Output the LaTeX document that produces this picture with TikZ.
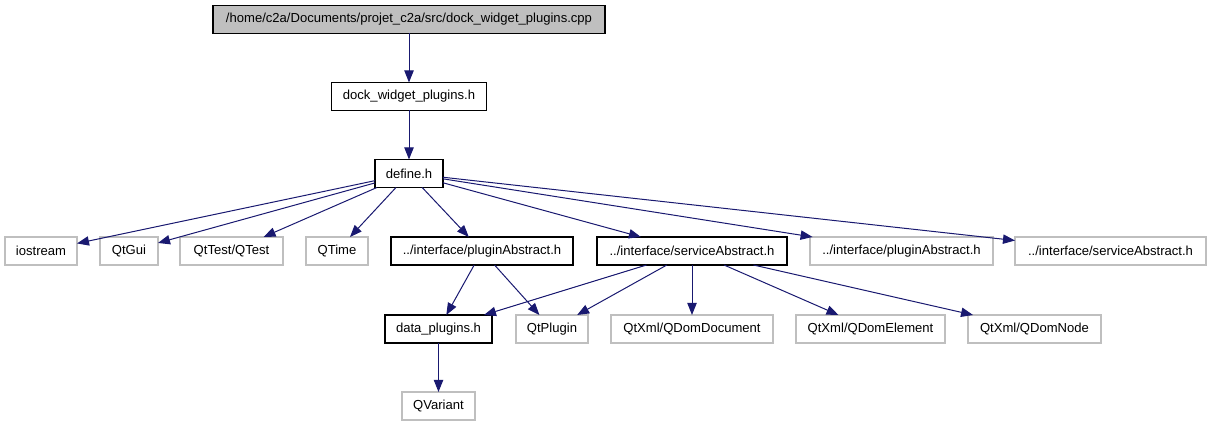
\documentclass[tikz,border=0pt]{standalone}
\usepackage{fontspec}
\setmainfont{Liberation Sans}
\usetikzlibrary{positioning, arrows.meta}
\definecolor{inclcolor}{RGB}{25, 25, 112}
\definecolor{extcolor}{RGB}{191, 191, 191}

\begin{document}
\begin{tikzpicture}[x=0.75pt, y=-0.75pt,
    filebox/.style={draw=black, line width=0.8pt, minimum height=21pt,
                    inner sep=0pt, outer sep=0pt, font=\fontsize{9.8}{11}\selectfont},
    extbox/.style={filebox, draw=extcolor},
    incl/.style={draw=inclcolor, line width=0.75pt,
                 -{Triangle[length=9pt, width=7pt]}}]
        \useasboundingbox (0,0) rectangle (1211,427);

        % top of the graph
        \node[filebox, fill=extcolor, minimum width=294pt] (cpp) at (409,19.5)
              {/home/c2a/Documents/projet\_c2a/src/dock\_widget\_plugins.cpp};
        \node[filebox, minimum width=116.25pt, below=36.75pt of cpp] (dock)
              {dock\_widget\_plugins.h};
        \node[filebox, minimum width=51pt, below=36.75pt of dock] (define)
              {define.h};

        % headers included by define.h
        \node[extbox, minimum width=54pt, anchor=west] (iostream) at (5,251)
              {iostream};
        \node[extbox, minimum width=43.5pt, right=17.25pt of iostream] (qtgui)
              {QtGui};
        \node[extbox, minimum width=77.25pt, right=16.5pt of qtgui] (qttest)
              {QtTest/QTest};
        \node[extbox, minimum width=46.5pt, right=17.25pt of qttest] (qtime)
              {QTime};
        \node[filebox, minimum width=136.5pt, right=17.25pt of qtime] (plugin)
              {../interface/pluginAbstract.h};
        \node[filebox, minimum width=142.5pt, right=18pt of plugin] (service)
              {../interface/serviceAbstract.h};
        \node[extbox, minimum width=137.25pt, right=17.25pt of service] (pluginx)
              {../interface/pluginAbstract.h};
        \node[extbox, minimum width=143.25pt, right=16.5pt of pluginx] (servicex)
              {../interface/serviceAbstract.h};

        % next level
        \node[filebox, minimum width=80.25pt, anchor=west] (data) at (385,329)
              {data\_plugins.h};
        \node[extbox, minimum width=54pt, right=18pt of data] (qtplugin)
              {QtPlugin};
        \node[extbox, minimum width=121.5pt, right=17.25pt of qtplugin] (domdoc)
              {QtXml/QDomDocument};
        \node[extbox, minimum width=111.75pt, right=17.25pt of domdoc] (domelem)
              {QtXml/QDomElement};
        \node[extbox, minimum width=99.75pt, right=17.25pt of domelem] (domnode)
              {QtXml/QDomNode};
        \node[extbox, minimum width=54.75pt, below=36.75pt of data] (qvariant)
              {QVariant};

        % includes
        \draw[incl] (cpp) -- (dock);
        \draw[incl] (dock) -- (define);
        \foreach \n in {iostream, qtgui, qttest, qtime, plugin, service, pluginx, servicex}
          \draw[incl] (define) -- (\n);
        \draw[incl] (plugin) -- (data);
        \draw[incl] (plugin) -- (qtplugin);
        \foreach \n in {data, qtplugin, domdoc, domelem, domnode}
          \draw[incl] (service) -- (\n);
        \draw[incl] (data) -- (qvariant);
      \end{tikzpicture}
\end{document}
